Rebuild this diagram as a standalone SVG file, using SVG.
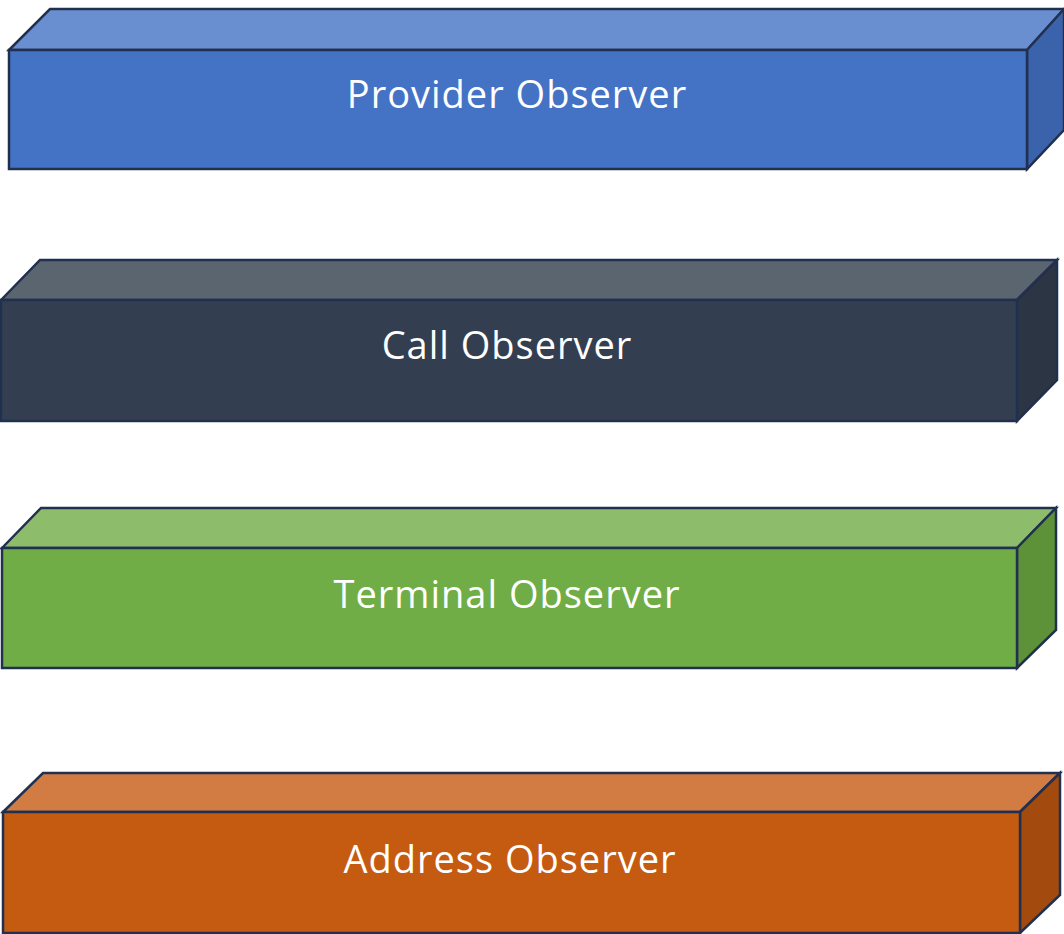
<svg xmlns="http://www.w3.org/2000/svg" width="1064" height="934" viewBox="0 0 1064 934">
<style>
  .edge { stroke: #22304f; stroke-width: 2.5; stroke-linejoin: miter; }
  .lbl { font-family: "Open Sans", "Noto Sans", sans-serif; font-size: 38px; letter-spacing: 1px; fill: #ffffff; text-anchor: middle; }
</style>
<rect width="1064" height="934" fill="#ffffff"/>
<g id="provider">
  <polygon class="edge" points="9,50 50,9 1064,9 1027,50" fill="#6A8FD0"/>
  <polygon class="edge" points="1027,50 1064,9 1064,130 1027,169" fill="#3A63AB"/>
  <rect class="edge" x="9" y="50" width="1018" height="119" fill="#4472C4"/>
  <text class="lbl" x="517" y="108">Provider Observer</text>
</g>
<g id="call">
  <polygon class="edge" points="1,300 40,260 1057,260 1017,300" fill="#5B6570"/>
  <polygon class="edge" points="1017,300 1057,260 1057,380 1017,421" fill="#2B3543"/>
  <rect class="edge" x="1" y="300" width="1016" height="121" fill="#333F50"/>
  <text class="lbl" x="507" y="359">Call Observer</text>
</g>
<g id="terminal">
  <polygon class="edge" points="2,548 41,508 1056,508 1017,548" fill="#8DBD6B"/>
  <polygon class="edge" points="1017,548 1056,508 1056,630 1017,668" fill="#5E9239"/>
  <rect class="edge" x="2" y="548" width="1015" height="120" fill="#70AD47"/>
  <text class="lbl" x="507" y="608">Terminal Observer</text>
</g>
<g id="address">
  <polygon class="edge" points="3,812 43,773 1060,773 1020,812" fill="#D27B43"/>
  <polygon class="edge" points="1020,812 1060,773 1060,895 1020,933" fill="#A34B0F"/>
  <rect class="edge" x="3" y="812" width="1017" height="121" fill="#C55A11"/>
  <text class="lbl" x="510" y="873">Address Observer</text>
</g>
<g id="connectors"></g>
</svg>
